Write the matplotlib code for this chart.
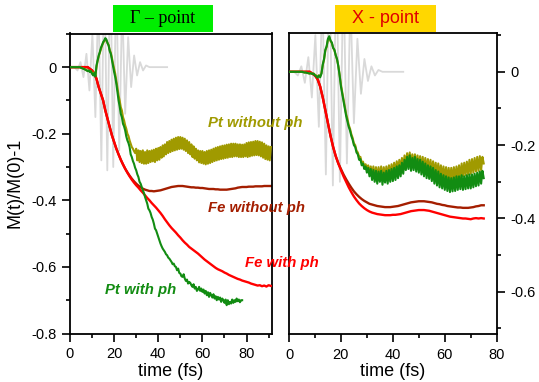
import numpy as np
import matplotlib
matplotlib.use("Agg")
import matplotlib.pyplot as plt
from matplotlib.patches import Rectangle
from matplotlib.ticker import MultipleLocator, FuncFormatter

plt.rcParams['font.family'] = ['Liberation Sans', 'DejaVu Sans']
plt.rcParams['axes.unicode_minus'] = False

# ---------------- data ----------------
# laser pulse (extrema of the oscillation), fs / arb.
pulse_t = [0, 2, 3.4, 4.75, 6.1, 7.45, 8.8, 10.15, 11.5, 12.85, 14.2, 15.55, 16.9,
           18.25, 19.6, 20.95, 22.3, 23.65, 25.0, 26.35, 27.7, 29.05, 30.4, 31.75,
           33.1, 34.45, 36, 44]
pulse_v = [0, 0, -0.01, 0.015, -0.03, 0.04, -0.07, 0.10, -0.15, 0.22, -0.28, 0.32, -0.31,
           0.33, -0.30, 0.28, -0.25, 0.20, -0.14, 0.09, -0.06, 0.035, -0.025, 0.015,
           -0.01, 0.005, 0, 0]

# Gamma point
g_fe_ph = [0, 0, 0, 0, 0, 0, 0, 0, 0, -0.005,
           -0.01, -0.02, -0.035, -0.06, -0.08, -0.10, -0.13, -0.155, -0.18, -0.205,
           -0.225, -0.245, -0.262, -0.278, -0.292, -0.305, -0.317, -0.328, -0.338, -0.347,
           -0.355, -0.362, -0.37, -0.377, -0.385, -0.393, -0.40, -0.408, -0.415, -0.422,
           -0.43, -0.438, -0.447, -0.457, -0.466, -0.475, -0.483, -0.49, -0.497, -0.505,
           -0.512, -0.52, -0.527, -0.533, -0.54, -0.545, -0.55, -0.555, -0.56, -0.566,
           -0.572, -0.578, -0.583, -0.588, -0.593, -0.598, -0.603, -0.607, -0.61, -0.613,
           -0.617, -0.62, -0.624, -0.627, -0.63, -0.633, -0.636, -0.638, -0.641, -0.643,
           -0.645, -0.647, -0.65, -0.652, -0.654, -0.656, -0.655, -0.658, -0.656, -0.659,
           -0.655, -0.657]
g_fe_noph = [0, 0, 0, 0, 0, 0, 0, 0, 0, -0.005,
             -0.01, -0.02, -0.035, -0.06, -0.08, -0.10, -0.13, -0.155, -0.18, -0.205,
             -0.225, -0.245, -0.262, -0.278, -0.292, -0.305, -0.316, -0.326, -0.335, -0.343,
             -0.35, -0.356, -0.361, -0.365, -0.368, -0.37, -0.372, -0.372, -0.373, -0.372,
             -0.371, -0.37, -0.368, -0.366, -0.364, -0.362, -0.36, -0.359, -0.358, -0.357,
             -0.357, -0.357, -0.358, -0.359, -0.36, -0.361, -0.361, -0.362, -0.362, -0.363,
             -0.363, -0.364, -0.365, -0.366, -0.366, -0.366, -0.367, -0.367, -0.368, -0.368,
             -0.368, -0.368, -0.367, -0.366, -0.365, -0.364, -0.362, -0.361, -0.36, -0.36,
             -0.36, -0.359, -0.359, -0.359, -0.358, -0.358, -0.358, -0.358, -0.357, -0.357,
             -0.357, -0.357]
g_pt_ph = [0, 0, 0, 0, 0, 0, 0, 0, 0, 0,
           -0.002, -0.003, -0.005, -0.006, -0.008, -0.01, -0.012, -0.01, -0.015, -0.012,
           -0.02, -0.025, -0.018, -0.028, 0.005, 0.02, 0.035, 0.045, 0.058, 0.066,
           0.075, 0.08, 0.087, 0.083, 0.072, 0.065, 0.048, 0.04, 0.022, 0.005,
           -0.015, -0.03, -0.05, -0.075, -0.1, -0.118, -0.14, -0.15, -0.17, -0.178,
           -0.19, -0.208, -0.22, -0.228, -0.24, -0.262, -0.27, -0.282, -0.29, -0.302,
           -0.31, -0.322, -0.33, -0.344, -0.35, -0.36, -0.37, -0.378, -0.39, -0.4,
           -0.41, -0.425, -0.43, -0.438, -0.45, -0.458, -0.47, -0.485, -0.49, -0.5,
           -0.51, -0.52, -0.53, -0.538, -0.545, -0.55, -0.555, -0.562, -0.565, -0.572,
           -0.575, -0.58, -0.585, -0.592, -0.59, -0.598, -0.6, -0.61, -0.605, -0.618,
           -0.62, -0.628, -0.63, -0.622, -0.635, -0.642, -0.638, -0.65, -0.645, -0.648,
           -0.655, -0.66, -0.652, -0.665, -0.66, -0.672, -0.668, -0.66, -0.672, -0.665,
           -0.675, -0.668, -0.68, -0.672, -0.685, -0.676, -0.69, -0.678, -0.685, -0.692,
           -0.682, -0.695, -0.688, -0.7, -0.69, -0.698, -0.692, -0.705, -0.695, -0.7,
           -0.708, -0.698, -0.715, -0.7, -0.712, -0.705, -0.71, -0.698, -0.708, -0.7,
           -0.705, -0.695, -0.703, -0.698, -0.706, -0.7, -0.7]
g_pt_noph = [0, 0, 0, 0, 0, 0, 0, 0, 0, 0,
             -0.002, -0.003, -0.004, -0.006, -0.007, -0.009, -0.011, -0.01, -0.013, -0.012,
             -0.018, -0.022, -0.016, -0.025, 0.0, 0.018, 0.032, 0.043, 0.055, 0.064,
             0.072, 0.078, 0.082, 0.08, 0.073, 0.066, 0.052, 0.043, 0.028, 0.01,
             -0.005, -0.02, -0.04, -0.062, -0.085, -0.1, -0.12, -0.13, -0.15, -0.16,
             -0.175, -0.185, -0.2, -0.207, -0.22, -0.23, -0.24, -0.245, -0.252, -0.258,
             -0.245, -0.28, -0.25, -0.285, -0.252, -0.288, -0.25, -0.29, -0.255, -0.29,
             -0.25, -0.288, -0.252, -0.285, -0.25, -0.283, -0.248, -0.285, -0.245, -0.28,
             -0.243, -0.278, -0.24, -0.272, -0.235, -0.268, -0.232, -0.262, -0.225, -0.258,
             -0.222, -0.255, -0.218, -0.252, -0.215, -0.25, -0.212, -0.248, -0.21, -0.246,
             -0.21, -0.245, -0.212, -0.248, -0.215, -0.252, -0.22, -0.258, -0.225, -0.262,
             -0.232, -0.27, -0.238, -0.275, -0.245, -0.28, -0.25, -0.286, -0.252, -0.288,
             -0.252, -0.29, -0.255, -0.292, -0.252, -0.29, -0.25, -0.288, -0.248, -0.285,
             -0.245, -0.282, -0.242, -0.28, -0.24, -0.278, -0.238, -0.276, -0.236, -0.275,
             -0.235, -0.273, -0.233, -0.272, -0.232, -0.27, -0.23, -0.27, -0.23, -0.268,
             -0.23, -0.268, -0.232, -0.27, -0.232, -0.27, -0.233, -0.27, -0.232, -0.268,
             -0.228, -0.27, -0.226, -0.268, -0.225, -0.266, -0.224, -0.265, -0.222, -0.264,
             -0.222, -0.265, -0.224, -0.268, -0.226, -0.272, -0.23, -0.276, -0.235, -0.278,
             -0.238, -0.28, -0.24]

# X point
x_fe_ph = [0, 0, 0, 0, 0, 0, 0, 0, 0, -0.005,
           -0.01, -0.02, -0.04, -0.07, -0.105, -0.14, -0.175, -0.205, -0.23, -0.25,
           -0.268, -0.285, -0.3, -0.315, -0.328, -0.34, -0.35, -0.359, -0.366, -0.372,
           -0.377, -0.381, -0.384, -0.386, -0.388, -0.389, -0.39, -0.391, -0.391, -0.391,
           -0.39, -0.39, -0.389, -0.388, -0.386, -0.384, -0.382, -0.38, -0.379, -0.378,
           -0.377, -0.377, -0.377, -0.378, -0.379, -0.381, -0.383, -0.385, -0.387, -0.389,
           -0.391, -0.393, -0.395, -0.396, -0.397, -0.398, -0.399, -0.40, -0.40, -0.401,
           -0.402, -0.40, -0.399, -0.40, -0.399, -0.40]
x_fe_noph = [0, 0, 0, 0, 0, 0, 0, 0, 0, -0.005,
             -0.01, -0.02, -0.04, -0.07, -0.105, -0.14, -0.175, -0.205, -0.23, -0.25,
             -0.265, -0.28, -0.293, -0.305, -0.316, -0.326, -0.334, -0.341, -0.347, -0.352,
             -0.356, -0.36, -0.362, -0.364, -0.366, -0.367, -0.368, -0.369, -0.369, -0.369,
             -0.368, -0.367, -0.366, -0.364, -0.362, -0.36, -0.358, -0.356, -0.355, -0.354,
             -0.353, -0.353, -0.353, -0.354, -0.355, -0.356, -0.358, -0.36, -0.361, -0.363,
             -0.364, -0.366, -0.367, -0.368, -0.369, -0.37, -0.37, -0.371, -0.371, -0.371,
             -0.37, -0.369, -0.367, -0.366, -0.364, -0.364]
x_pt_ph = [0, 0, 0, 0, 0, 0, 0, 0, 0, 0,
           0, -0.001, -0.002, -0.002, -0.003, -0.004, -0.005, -0.004, -0.006, -0.005,
           -0.01, -0.012, -0.016, -0.01, -0.015, -0.005, 0.02, 0.035, 0.06, 0.07,
           0.09, 0.097, 0.085, 0.08, 0.065, 0.06, 0.045, 0.035, 0.015, -0.01,
           -0.04, -0.06, -0.08, -0.1, -0.12, -0.135, -0.15, -0.16, -0.175, -0.185,
           -0.2, -0.205, -0.22, -0.225, -0.24, -0.238, -0.255, -0.25, -0.265, -0.258,
           -0.275, -0.262, -0.285, -0.265, -0.295, -0.268, -0.3, -0.27, -0.305, -0.272,
           -0.3, -0.27, -0.308, -0.275, -0.302, -0.27, -0.305, -0.268, -0.3, -0.265,
           -0.298, -0.262, -0.295, -0.258, -0.29, -0.255, -0.285, -0.248, -0.278, -0.24,
           -0.268, -0.232, -0.265, -0.228, -0.27, -0.235, -0.268, -0.232, -0.272, -0.238,
           -0.275, -0.24, -0.28, -0.245, -0.285, -0.25, -0.29, -0.255, -0.292, -0.258,
           -0.298, -0.262, -0.305, -0.268, -0.31, -0.272, -0.315, -0.278, -0.318, -0.282,
           -0.322, -0.285, -0.325, -0.288, -0.328, -0.29, -0.326, -0.288, -0.325, -0.285,
           -0.322, -0.285, -0.32, -0.282, -0.322, -0.285, -0.32, -0.282, -0.318, -0.28,
           -0.318, -0.28, -0.315, -0.278, -0.312, -0.275, -0.31, -0.272, -0.305, -0.27,
           -0.29]
x_pt_noph = [0, 0, 0, 0, 0, 0, 0, 0, 0, 0,
             0, -0.001, -0.002, -0.002, -0.003, -0.004, -0.004, -0.004, -0.005, -0.005,
             -0.008, -0.01, -0.014, -0.01, -0.012, -0.004, 0.018, 0.033, 0.058, 0.068,
             0.088, 0.094, 0.084, 0.078, 0.066, 0.058, 0.046, 0.033, 0.016, -0.008,
             -0.035, -0.055, -0.075, -0.095, -0.115, -0.128, -0.145, -0.155, -0.17, -0.18,
             -0.195, -0.2, -0.215, -0.22, -0.232, -0.232, -0.248, -0.245, -0.258, -0.252,
             -0.268, -0.255, -0.278, -0.258, -0.285, -0.258, -0.29, -0.26, -0.292, -0.26,
             -0.29, -0.258, -0.295, -0.26, -0.29, -0.258, -0.29, -0.255, -0.285, -0.252,
             -0.282, -0.248, -0.278, -0.244, -0.272, -0.24, -0.268, -0.235, -0.262, -0.228,
             -0.258, -0.222, -0.255, -0.22, -0.258, -0.225, -0.26, -0.225, -0.262, -0.228,
             -0.265, -0.23, -0.268, -0.232, -0.27, -0.235, -0.272, -0.238, -0.275, -0.24,
             -0.278, -0.244, -0.282, -0.248, -0.285, -0.25, -0.288, -0.255, -0.292, -0.258,
             -0.295, -0.26, -0.298, -0.262, -0.298, -0.262, -0.296, -0.26, -0.295, -0.258,
             -0.29, -0.255, -0.288, -0.25, -0.285, -0.248, -0.282, -0.245, -0.28, -0.24,
             -0.278, -0.238, -0.275, -0.235, -0.272, -0.232, -0.27, -0.23, -0.268, -0.232,
             -0.25]

# time grids
t_g_fe = np.arange(len(g_fe_ph)) * 1.0
t_g_pt_ph = np.arange(len(g_pt_ph)) * 0.5
t_g_pt_noph = np.arange(len(g_pt_noph)) * 0.5
t_x_fe = np.arange(len(x_fe_ph)) * 1.0
t_x_pt = np.arange(len(x_pt_ph)) * 0.5

x_ticks = [0, 20, 40, 60, 80]
y_ticks_left = [0, -0.2, -0.4, -0.6, -0.8]
y_ticks_right = [0, -0.2, -0.4, -0.6]

C_GREEN = '#128c12'
C_OLIVE = '#a09a00'
C_DRED = '#a41e00'
C_RED = '#ff0000'
C_GRAY = '#d9d9d9'

# ---------------- figure ----------------
fig = plt.figure(figsize=(5.39, 3.82), dpi=100)
W, H = 539.0, 382.0
axL = fig.add_axes([70 / W, 1 - 333.5 / H, 201.5 / W, 300 / H])
axR = fig.add_axes([289 / W, 1 - 334 / H, 207.7 / W, 300.7 / H])

fmt = FuncFormatter(lambda v, p: '0' if abs(v) < 1e-9 else ('%.1f' % v))

for ax, tf, fe_ph, fe_noph, tpp, pt_ph, tpn, pt_noph in [
        (axL, t_g_fe, g_fe_ph, g_fe_noph, t_g_pt_ph, g_pt_ph, t_g_pt_noph, g_pt_noph),
        (axR, t_x_fe, x_fe_ph, x_fe_noph, t_x_pt, x_pt_ph, t_x_pt, x_pt_noph)]:
    ax.plot(pulse_t, pulse_v, color=C_GRAY, lw=1.3, zorder=1)
    ax.plot(tf, fe_noph, color=C_DRED, lw=1.7, zorder=2)
    ax.plot(tf, fe_ph, color=C_RED, lw=1.7, zorder=3)
    ax.plot(tpn, pt_noph, color=C_OLIVE, lw=1.5, zorder=4)
    ax.plot(tpp, pt_ph, color=C_GREEN, lw=1.5, zorder=5)
    ax.xaxis.set_major_locator(MultipleLocator(20))
    ax.xaxis.set_minor_locator(MultipleLocator(10))
    ax.yaxis.set_major_locator(MultipleLocator(0.2))
    ax.yaxis.set_minor_locator(MultipleLocator(0.1))
    ax.yaxis.set_major_formatter(fmt)
    ax.tick_params(which='major', direction='out', length=6, width=1.2, labelsize=10.5)
    ax.tick_params(which='minor', direction='out', length=3, width=1.2)
    ax.tick_params(axis='x', which='both', top=False, pad=4)
    for s in ax.spines.values():
        s.set_linewidth(1.3)

axL.set_xlim(0, 91.3)
axL.set_ylim(-0.8, 0.101)
axL.tick_params(axis='y', which='both', right=False, left=True)
axL.set_yticks(y_ticks_left)
axL.set_xticks(x_ticks)

axR.set_xlim(0, 80)
axR.set_ylim(-0.715, 0.105)
axR.yaxis.tick_right()
axR.tick_params(axis='y', which='both', left=False, right=True)
axR.set_yticks(y_ticks_right)
axR.set_xticks(x_ticks)

# curve labels (figure-level so they are drawn above both panels)
lab = dict(fontweight='bold', style='italic', fontsize=10.7, va='center', ha='left',
           transform=axL.transData, zorder=10)
fig.text(62.4, -0.168, 'Pt without ph', color=C_OLIVE, **lab)
fig.text(62.4, -0.423, 'Fe without ph', color=C_DRED, **lab)
fig.text(79.2, -0.589, 'Fe with ph', color=C_RED, **lab)
fig.text(15.8, -0.67, 'Pt with ph', color=C_GREEN, **lab)

# axis labels
fig.text(15 / W, 1 - 183 / H, 'M(t)/M(0)-1', rotation=90, ha='center', va='center', fontsize=13)
fig.text(170.7 / W, 1 - 371 / H, 'time (fs)', ha='center', va='center', fontsize=13)
fig.text(393 / W, 1 - 371 / H, 'time (fs)', ha='center', va='center', fontsize=13)

# title boxes
fig.patches.append(Rectangle((113 / W, 1 - 32 / H), 100 / W, 27 / H, transform=fig.transFigure,
                             facecolor='#00ee00', edgecolor='none'))
fig.patches.append(Rectangle((335 / W, 1 - 32 / H), 101 / W, 27 / H, transform=fig.transFigure,
                             facecolor='#ffd700', edgecolor='none'))
fig.text(163 / W, 1 - 18.5 / H, 'Γ – point', ha='center', va='center', fontsize=13,
         family=['Liberation Serif', 'DejaVu Serif'], color='black')
fig.text(385.5 / W, 1 - 18.5 / H, 'X - point', ha='center', va='center', fontsize=13,
         color='#e00000')

fig.savefig('out.png', dpi=100)
